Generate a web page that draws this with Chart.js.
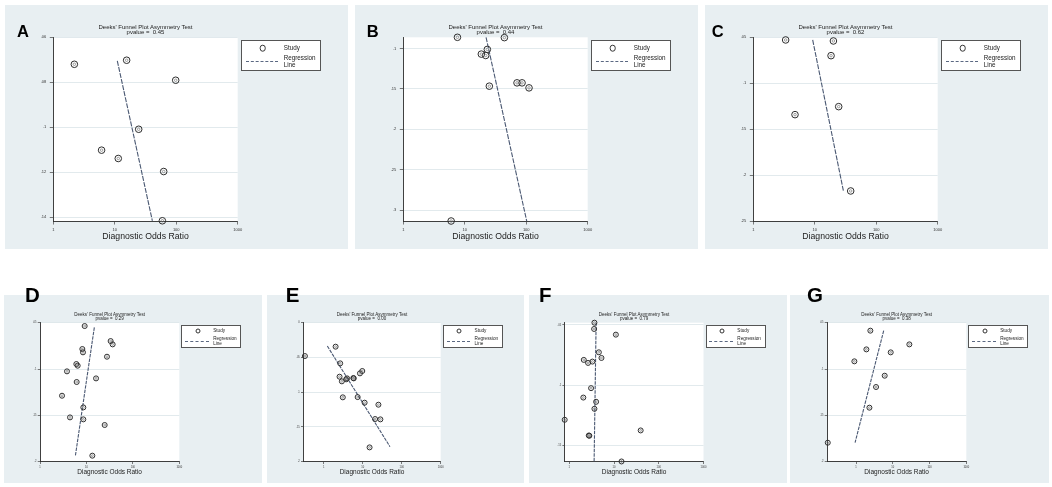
<!DOCTYPE html>
<html lang="en">
<head>
<meta charset="UTF-8">
<title>Deeks' Funnel Plot Asymmetry Test</title>
<script src="https://cdn.jsdelivr.net/npm/chart.js@4"></script>
<style>
  html, body { margin: 0; padding: 0; background: #fff; }
  #page { position: relative; width: 1052px; height: 487px; overflow: hidden;
          font-family: "Liberation Sans", Arial, sans-serif; color: #222; }
  .panel { position: absolute; background: #e8eff2; }
  canvas { position: absolute; }
  .txt { position: absolute; white-space: nowrap; line-height: 1; transform: translate(-50%, -50%); }
  .letter { position: absolute; font-weight: bold; line-height: 1; color: #000; }
  .legend { position: absolute; background: #fff; border: 1px solid #555; box-sizing: border-box; }
  .legend span { position: absolute; white-space: nowrap; line-height: 1; transform: translateY(-50%); }
  .legend .mark { border: 1px solid #333; border-radius: 50%; box-sizing: border-box; transform: translate(-50%, -50%); }
  .legend .dash { height: 0; border-top: 1px dashed #5a6882; transform: none; }
</style>
</head>
<body>
<div id="page"></div>

<script>
// values: DOR (x, log) and 1/sqrt(ESS) (y, reversed)
const xTicks = [1, 10, 100, 1000];
const letters = ['A', 'B', 'C', 'D', 'E', 'F', 'G'];
const pvalues = ['0.45', '0.44', '0.62', '0.29', '0.00', '0.79', '0.38'];

const dorA = [2.2, 15.6, 98, 24.5, 6.1, 11.4, 62.5, 59.5];
const essA = [0.072, 0.0702, 0.0791, 0.1009, 0.1102, 0.1139, 0.1197, 0.1416];
const regDorA = [11.0, 40.9];
const regEssA = [0.0705, 0.1416];
const yTicksA = [0.06, 0.08, 0.1, 0.12, 0.14];

const dorB = [7.6, 44.1, 23.3, 18.6, 21.9, 25.1, 70.8, 85.5, 111, 6.0];
const essB = [0.0862, 0.0866, 0.1012, 0.107, 0.1087, 0.1467, 0.1426, 0.1426, 0.1488, 0.3136];
const regDorB = [22.2, 101.8];
const regEssB = [0.0862, 0.3136];
const yTicksB = [0.1, 0.15, 0.2, 0.25, 0.3];

const dorC = [3.36, 20.1, 18.4, 24.5, 4.77, 38.4];
const essC = [0.0529, 0.054, 0.07, 0.1255, 0.1342, 0.2173];
const regDorC = [9.25, 29.2];
const regEssC = [0.0529, 0.217];
const yTicksC = [0.05, 0.1, 0.15, 0.2, 0.25];

const dorD = [9.16, 33.2, 36.7, 8.16, 8.43, 27.7, 6.06, 6.48, 3.81, 16.1, 6.16, 2.98, 8.57, 4.43, 8.57, 24.7, 13.4];
const essD = [0.0536, 0.0698, 0.0734, 0.0784, 0.082, 0.0867, 0.0946, 0.0964, 0.1025, 0.1101, 0.114, 0.1288, 0.1414, 0.1522, 0.1543, 0.1604, 0.1935];
const regDorD = [14.8, 5.77];
const regEssD = [0.055, 0.1939];
const yTicksD = [0.05, 0.1, 0.15, 0.2];

const dorE = [0.33, 2.02, 2.65, 2.55, 2.92, 3.76, 3.98, 5.76, 5.9, 8.51, 9.75, 3.09, 7.42, 11.2, 25.3, 20.8, 28.4, 15.0];
const essE = [0.048, 0.0345, 0.0585, 0.0777, 0.0844, 0.0815, 0.0801, 0.0796, 0.0801, 0.0729, 0.0695, 0.1074, 0.107, 0.1151, 0.118, 0.1386, 0.1391, 0.1794];
const regDorE = [1.24, 50];
const regEssE = [0.0336, 0.1784];
const yTicksE = [0, 0.05, 0.1, 0.15, 0.2];

const dorF = [3.65, 3.59, 11.0, 4.58, 5.24, 2.11, 2.63, 3.29, 3.07, 2.06, 3.98, 3.65, 0.79, 39.4, 2.73, 2.81, 14.7];
const essF = [0.0481, 0.0533, 0.058, 0.0726, 0.0773, 0.0789, 0.0814, 0.0803, 0.1023, 0.1101, 0.1136, 0.1194, 0.1285, 0.1373, 0.1415, 0.1417, 0.163];
const regDorF = [3.98, 3.59];
const regEssF = [0.0481, 0.163];
const yTicksF = [0.05, 0.1, 0.15];

const dorG = [2.45, 28.2, 1.91, 8.77, 0.90, 6.02, 3.50, 2.31, 0.17];
const essG = [0.0586, 0.0734, 0.0788, 0.082, 0.0917, 0.1072, 0.1194, 0.1417, 0.1795];
const regDorG = [5.65, 0.94];
const regEssG = [0.0586, 0.1795];
const yTicksG = [0.05, 0.1, 0.15, 0.2];

// page layout: box = panel background, plot = white plot region (left, top, right, bottom)
const panels = [
  { box: [5, 5, 348, 249], plot: [53.3, 37.3, 237.7, 221], xMin: 1, yMin: 0.06, yMax: 0.1417, letterX: 17,
    dor: dorA, ess: essA, regDor: regDorA, regEss: regEssA, yTicks: yTicksA, big: true },
  { box: [355, 5, 698, 249], plot: [403.3, 37.3, 587.7, 221], xMin: 1, yMin: 0.0862, yMax: 0.3136, letterX: 366.7,
    dor: dorB, ess: essB, regDor: regDorB, regEss: regEssB, yTicks: yTicksB, big: true },
  { box: [705, 5, 1048, 249], plot: [753.3, 37.3, 937.7, 221], xMin: 1, yMin: 0.05, yMax: 0.25, letterX: 711.7,
    dor: dorC, ess: essC, regDor: regDorC, regEss: regEssC, yTicks: yTicksC, big: true },
  { box: [4, 295, 262, 483], plot: [40, 322.7, 179.3, 461.7], xMin: 1, yMin: 0.05, yMax: 0.2, letterX: 25,
    dor: dorD, ess: essD, regDor: regDorD, regEss: regEssD, yTicks: yTicksD, big: false },
  { box: [267, 295, 524, 483], plot: [303.3, 322.7, 440.7, 461.7], xMin: 0.33, yMin: 0, yMax: 0.2, letterX: 285.7,
    dor: dorE, ess: essE, regDor: regDorE, regEss: regEssE, yTicks: yTicksE, big: false },
  { box: [529, 295, 787, 483], plot: [564.7, 322.7, 703.5, 461.7], xMin: 0.79, yMin: 0.0481, yMax: 0.1632, letterX: 539,
    dor: dorF, ess: essF, regDor: regDorF, regEss: regEssF, yTicks: yTicksF, big: false },
  { box: [790, 295, 1049, 483], plot: [827, 322.7, 966.3, 461.7], xMin: 0.162, yMin: 0.05, yMax: 0.2, letterX: 807,
    dor: dorG, ess: essG, regDor: regDorG, regEss: regEssG, yTicks: yTicksG, big: false }
];

const bigStyle = { W: 14, H: 12, tickLen: 3.5, yPad: 3.5, xPad: 3, tickFont: 4, r: 3.3, dash: [5, 1.2],
  titleFont: 6, titleDy: [-10.6, -5], axisFont: 8.7, axisDy: 15, letterFont: 16.5, letterTop: 22.6,
  legW: 80, legH: 31, legDx: 3.3, legDy: 2.7, k: 1 };
const smallStyle = { W: 10, H: 8, tickLen: 2.3, yPad: 1.2, xPad: 1.8, tickFont: 2.6, r: 2.5, dash: [3.5, 1],
  titleFont: 4.5, titleDy: [-7.7, -3.4], axisFont: 6.5, axisDy: 10.3, letterFont: 20.5, letterTop: 285.4,
  legW: 60, legH: 23, legDx: 2, legDy: 2.3, k: 0.74 };

const fontFamily = '"Liberation Sans", Arial, sans-serif';
Chart.defaults.font.family = fontFamily;
const page = document.getElementById('page');

function el(cls, css, text) {
  const d = document.createElement('div');
  d.className = cls;
  Object.assign(d.style, css);
  if (text !== undefined) d.textContent = text;
  page.appendChild(d);
  return d;
}

const plotBg = {
  id: 'plotBg',
  beforeDraw(chart) {
    const { ctx, chartArea: a } = chart;
    ctx.save();
    ctx.fillStyle = '#fff';
    ctx.fillRect(a.left, a.top, a.right - a.left, a.bottom - a.top);
    ctx.restore();
  }
};

// small mark inside each study circle (the study label in the original)
const innerMark = {
  id: 'innerMark',
  afterDatasetsDraw(chart) {
    const ctx = chart.ctx;
    const meta = chart.getDatasetMeta(0);
    const r = chart.data.datasets[0].pointRadius * 0.38;
    ctx.save();
    ctx.strokeStyle = '#666';
    ctx.lineWidth = 0.6;
    meta.data.forEach(pt => {
      ctx.beginPath();
      ctx.arc(pt.x, pt.y, r, 0, Math.PI * 2);
      ctx.stroke();
    });
    ctx.restore();
  }
};

panels.forEach((p, i) => {
  const s = p.big ? bigStyle : smallStyle;
  const [bl, bt, br, bb] = p.box;
  const [pl, pt, pr, pb] = p.plot;

  el('panel', { left: bl + 'px', top: bt + 'px', width: (br - bl) + 'px', height: (bb - bt) + 'px' });

  const cv = document.createElement('canvas');
  cv.width = br - bl;
  cv.height = bb - bt;
  cv.style.left = bl + 'px';
  cv.style.top = bt + 'px';
  page.appendChild(cv);

  new Chart(cv, {
    type: 'scatter',
    data: {
      datasets: [
        {
          label: 'Study',
          data: p.dor.map((d, j) => ({ x: d, y: p.ess[j] })),
          pointStyle: 'circle',
          pointRadius: s.r,
          pointHoverRadius: s.r,
          borderColor: '#2e2e2e',
          backgroundColor: 'rgba(0,0,0,0)',
          borderWidth: 1,
          clip: false,
          order: 1
        },
        {
          label: 'Regression Line',
          data: p.regDor.map((d, j) => ({ x: d, y: p.regEss[j] })),
          showLine: true,
          borderColor: '#4a5872',
          borderWidth: 1.1,
          borderDash: s.dash,
          pointRadius: 0,
          clip: false,
          order: 2
        }
      ]
    },
    options: {
      responsive: false,
      animation: false,
      events: [],
      layout: {
        padding: {
          left: pl - bl - s.W,
          top: pt - bt,
          right: br - pr,
          bottom: bb - pb - s.H
        }
      },
      plugins: { legend: { display: false }, tooltip: { enabled: false } },
      scales: {
        x: {
          type: 'logarithmic',
          min: p.xMin,
          max: 1000,
          afterBuildTicks: sc => { sc.ticks = xTicks.map(v => ({ value: v })); },
          afterFit: sc => { sc.height = s.H; },
          ticks: { autoSkip: false, maxRotation: 0, padding: s.xPad, color: '#333',
                   font: { size: s.tickFont }, callback: v => String(v) },
          grid: { drawOnChartArea: false, tickLength: s.tickLen, color: '#444', lineWidth: 0.7 },
          border: { color: '#2a2a2a', width: 0.9 }
        },
        y: {
          type: 'linear',
          reverse: true,
          min: p.yMin,
          max: p.yMax,
          afterBuildTicks: sc => { sc.ticks = p.yTicks.map(v => ({ value: v })); },
          afterFit: sc => { sc.width = s.W; },
          ticks: { autoSkip: false, padding: s.yPad, color: '#333', font: { size: s.tickFont },
                   callback: v => v === 0 ? '0' : String(v).replace(/^0\./, '.') },
          grid: { color: '#dbe4e9', lineWidth: 0.8, tickColor: '#444', tickWidth: 0.7, tickLength: s.tickLen },
          border: { color: '#2a2a2a', width: 0.9 }
        }
      }
    },
    plugins: [plotBg, innerMark]
  });

  const cx = (pl + pr) / 2;
  el('txt', { left: cx + 'px', top: (pt + s.titleDy[0]) + 'px', fontSize: s.titleFont + 'px' },
     "Deeks' Funnel Plot Asymmetry Test");
  el('txt', { left: cx + 'px', top: (pt + s.titleDy[1]) + 'px', fontSize: s.titleFont + 'px', whiteSpace: 'pre' },
     'pvalue =  ' + pvalues[i]);
  el('txt', { left: cx + 'px', top: (pb + s.axisDy) + 'px', fontSize: s.axisFont + 'px' },
     'Diagnostic Odds Ratio');
  el('letter', { left: p.letterX + 'px', top: s.letterTop + 'px', fontSize: s.letterFont + 'px' }, letters[i]);

  // legend box
  const k = s.k;
  const lg = el('legend', { left: (pr + s.legDx) + 'px', top: (pt + s.legDy) + 'px',
                            width: s.legW + 'px', height: s.legH + 'px' });
  const fs = 6.3 * k;
  const add = (cls, css, text) => {
    const sp = document.createElement('span');
    if (cls) sp.className = cls;
    Object.assign(sp.style, css);
    if (text !== undefined) sp.textContent = text;
    lg.appendChild(sp);
  };
  const mr = s.r * 2;
  add('mark', { left: (20.7 * k) + 'px', top: (7 * k) + 'px', width: mr + 'px', height: mr + 'px' });
  add('', { left: (41.7 * k) + 'px', top: (7 * k) + 'px', fontSize: fs + 'px' }, 'Study');
  add('dash', { left: (4 * k) + 'px', top: (20 * k) + 'px', width: (32 * k) + 'px' });
  add('', { left: (41.7 * k) + 'px', top: (17.3 * k) + 'px', fontSize: fs + 'px' }, 'Regression');
  add('', { left: (41.7 * k) + 'px', top: (23.7 * k) + 'px', fontSize: fs + 'px' }, 'Line');
});
</script>
</body>
</html>
